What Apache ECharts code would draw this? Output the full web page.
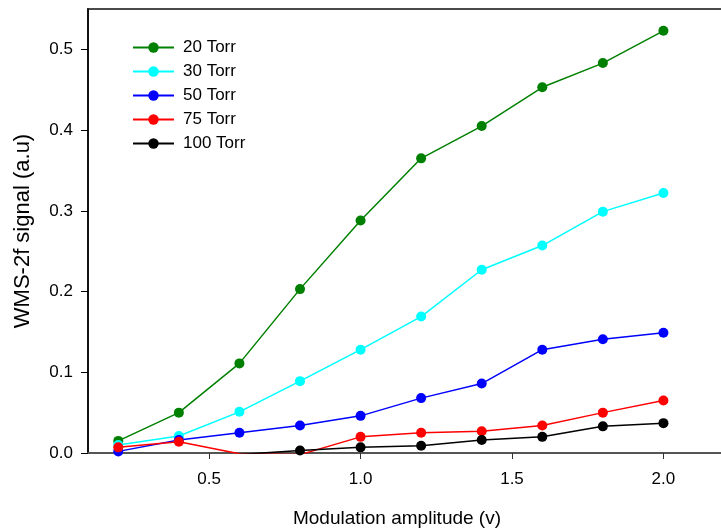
<!DOCTYPE html>
<html>
<head>
<meta charset="utf-8">
<script src="https://cdn.jsdelivr.net/npm/echarts@6/dist/echarts.min.js"></script>
<style>
  html, body { margin: 0; padding: 0; background: #fff; }
  #chart { width: 721px; height: 529px; }
</style>
</head>
<body>
<div id="chart"></div>
<script>
// modulation amplitude (v)
const amplitude = [0.2, 0.4, 0.6, 0.8, 1.0, 1.2, 1.4, 1.6, 1.8, 2.0]
const torr20 = [0.015, 0.050, 0.111, 0.203, 0.288, 0.365, 0.405, 0.453, 0.483, 0.523]
const torr30 = [0.010, 0.021, 0.051, 0.089, 0.128, 0.169, 0.227, 0.257, 0.299, 0.322]
const torr50 = [0.002, 0.016, 0.025, 0.034, 0.046, 0.068, 0.086, 0.128, 0.141, 0.149]
const torr75 = [0.007, 0.014, -0.001, -0.002, 0.020, 0.025, 0.027, 0.034, 0.050, 0.065]
const torr100 = [-0.003, -0.004, -0.002, 0.003, 0.007, 0.009, 0.016, 0.020, 0.033, 0.037]
const xTicks = [0.5, 1.0, 1.5, 2.0]
const yTicks = [0, 0.1, 0.2, 0.3, 0.4, 0.5]

const seriesDefs = [
  { name: '20 Torr', values: torr20, color: '#008000' },
  { name: '30 Torr', values: torr30, color: '#00ffff' },
  { name: '50 Torr', values: torr50, color: '#0000ff' },
  { name: '75 Torr', values: torr75, color: '#ff0000' },
  { name: '100 Torr', values: torr100, color: '#000000' }
]

const font = 'Arial, "Liberation Sans", sans-serif'
const chart = echarts.init(document.getElementById('chart'))

chart.setOption({
  animation: false,
  textStyle: { fontFamily: font },
  grid: {
    left: 88,
    top: 9,
    width: 636,
    height: 444,
    outerBoundsMode: 'none',
    containLabel: false,
    show: true,
    borderColor: '#4a4a4a',
    borderWidth: 2
  },
  legend: {
    left: 127,
    top: 34,
    orient: 'vertical',
    itemWidth: 41,
    itemHeight: 13,
    itemGap: 7,
    textStyle: { fontSize: 17, color: '#000', padding: [0, 0, 0, 4] },
    data: seriesDefs.map((s) => s.name)
  },
  xAxis: {
    type: 'value',
    min: 0.1,
    max: 2.2,
    name: 'Modulation amplitude (v)',
    nameLocation: 'middle',
    nameGap: 56,
    nameTextStyle: { fontSize: 19, color: '#000', padding: [0, 18, 0, 0] },
    axisLine: { lineStyle: { color: '#555', width: 2 } },
    axisTick: { show: true, length: 6, customValues: xTicks, lineStyle: { color: '#333' } },
    axisLabel: {
      customValues: xTicks,
      fontSize: 17,
      color: '#000',
      margin: 18,
      formatter: (v) => v.toFixed(1)
    },
    splitLine: { show: false }
  },
  yAxis: {
    type: 'value',
    min: 0,
    max: 0.55,
    name: 'WMS-2f signal (a.u)',
    nameLocation: 'middle',
    nameGap: 54,
    nameTextStyle: { fontSize: 22, color: '#000' },
    axisLine: { show: true, lineStyle: { color: '#000', width: 1.5 } },
    axisTick: { show: true, length: 7, customValues: yTicks, lineStyle: { color: '#000' } },
    axisLabel: {
      customValues: yTicks,
      fontSize: 17,
      color: '#000',
      margin: 15,
      formatter: (v) => v.toFixed(1)
    },
    splitLine: { show: false }
  },
  series: seriesDefs.map((s) => ({
    name: s.name,
    type: 'line',
    symbol: 'circle',
    symbolSize: 10,
    clip: true,
    itemStyle: { color: s.color },
    lineStyle: { color: s.color, width: 1.5 },
    data: amplitude.map((x, i) => [x, s.values[i]])
  }))
})
</script>
</body>
</html>
